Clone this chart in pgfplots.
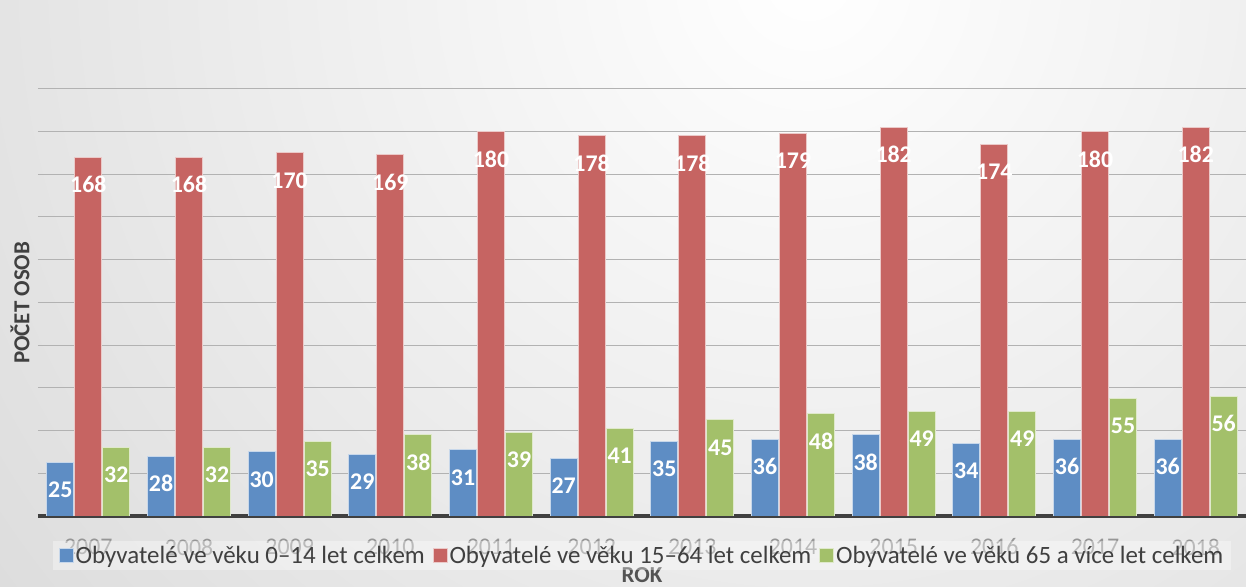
\documentclass[border=0pt]{standalone}
\usepackage{pgfplots}
\pgfplotsset{compat=1.18}
\usepackage{fontspec}
\setmainfont{Carlito}

\definecolor{cBlue}{RGB}{94,141,196}
\definecolor{cRed}{RGB}{198,100,98}
\definecolor{cGreen}{RGB}{163,192,106}
\definecolor{cGrid}{RGB}{178,178,178}
\definecolor{cText}{RGB}{64,64,64}
\definecolor{cTick}{RGB}{150,150,150}
\definecolor{bgEdge}{RGB}{198,198,198}

\begin{document}
\begin{tikzpicture}[x=1bp,y=1bp]
\useasboundingbox (-38,-71) rectangle (1208,516);
\begin{scope}
  \clip (-38,-71) rectangle (1208,516);
  \shade[inner color=white, outer color=bgEdge] (770,540) circle (1700);
\end{scope}
\begin{axis}[
  at={(0,0)}, anchor=south west,
  width=1208bp, height=516bp, scale only axis,
  xmin=-0.5, xmax=11.5, ymin=0, ymax=241.5,
  ybar=1bp, bar width=27bp,
  axis x line*=bottom, axis y line*=left,
  y axis line style={draw=none},
  x axis line style={line width=3.5bp, color=cText},
  major tick length=0pt,
  ytick={20,40,...,200}, yticklabels={},
  ymajorgrids, grid style={cGrid, line width=1.1bp},
  xtick={0,...,11},
  xticklabels={2007,2008,2009,2010,2011,2012,2013,2014,2015,2016,2017,2018},
  x tick label style={font=\fontsize{24}{24}\selectfont, text=cTick, anchor=center, yshift=-31bp},
  /pgf/number format/assume math mode=true,
  nodes near coords,
  every node near coord/.append style={font=\bfseries\fontsize{24}{24}\selectfont, text=white, anchor=center, yshift=-27.5bp},
  xlabel={ROK},
  xlabel style={at={(0.5,-0.1143)}, anchor=center, font=\bfseries\fontsize{23}{23}\selectfont, text=cText!90},
  ylabel={POČET OSOB},
  ylabel style={at={(-0.0149,0.413)}, anchor=center, font=\bfseries\fontsize{23}{23}\selectfont, text=cText},
  legend columns=3,
  legend style={at={(0.5,-0.0766)}, anchor=center, fill=white, fill opacity=0.35, text opacity=1, draw=none,
    font=\fontsize{25}{25}\selectfont, text=cText, inner ysep=3bp, inner xsep=6bp,
    /tikz/every even column/.append style={column sep=6bp}},
  legend image code/.code={\draw[#1, line width=0.8bp, fill opacity=1, draw opacity=1] (0bp,-7bp) rectangle (14bp,7bp);},
]
\addplot[fill=cBlue, draw=white!65!cBlue, line width=0.8bp] coordinates {
  (0,25) (1,28) (2,30) (3,29) (4,31) (5,27) (6,35) (7,36) (8,38) (9,34) (10,36) (11,36)};
\addplot[fill=cRed, draw=white!65!cRed, line width=0.8bp] coordinates {
  (0,168) (1,168) (2,170) (3,169) (4,180) (5,178) (6,178) (7,179) (8,182) (9,174) (10,180) (11,182)};
\addplot[fill=cGreen, draw=white!65!cGreen, line width=0.8bp] coordinates {
  (0,32) (1,32) (2,35) (3,38) (4,39) (5,41) (6,45) (7,48) (8,49) (9,49) (10,55) (11,56)};
\legend{Obyvatelé ve věku 0–14 let celkem, Obyvatelé ve věku 15–64 let celkem, Obyvatelé ve věku 65 a více let celkem}
\end{axis}
\end{tikzpicture}
\end{document}
